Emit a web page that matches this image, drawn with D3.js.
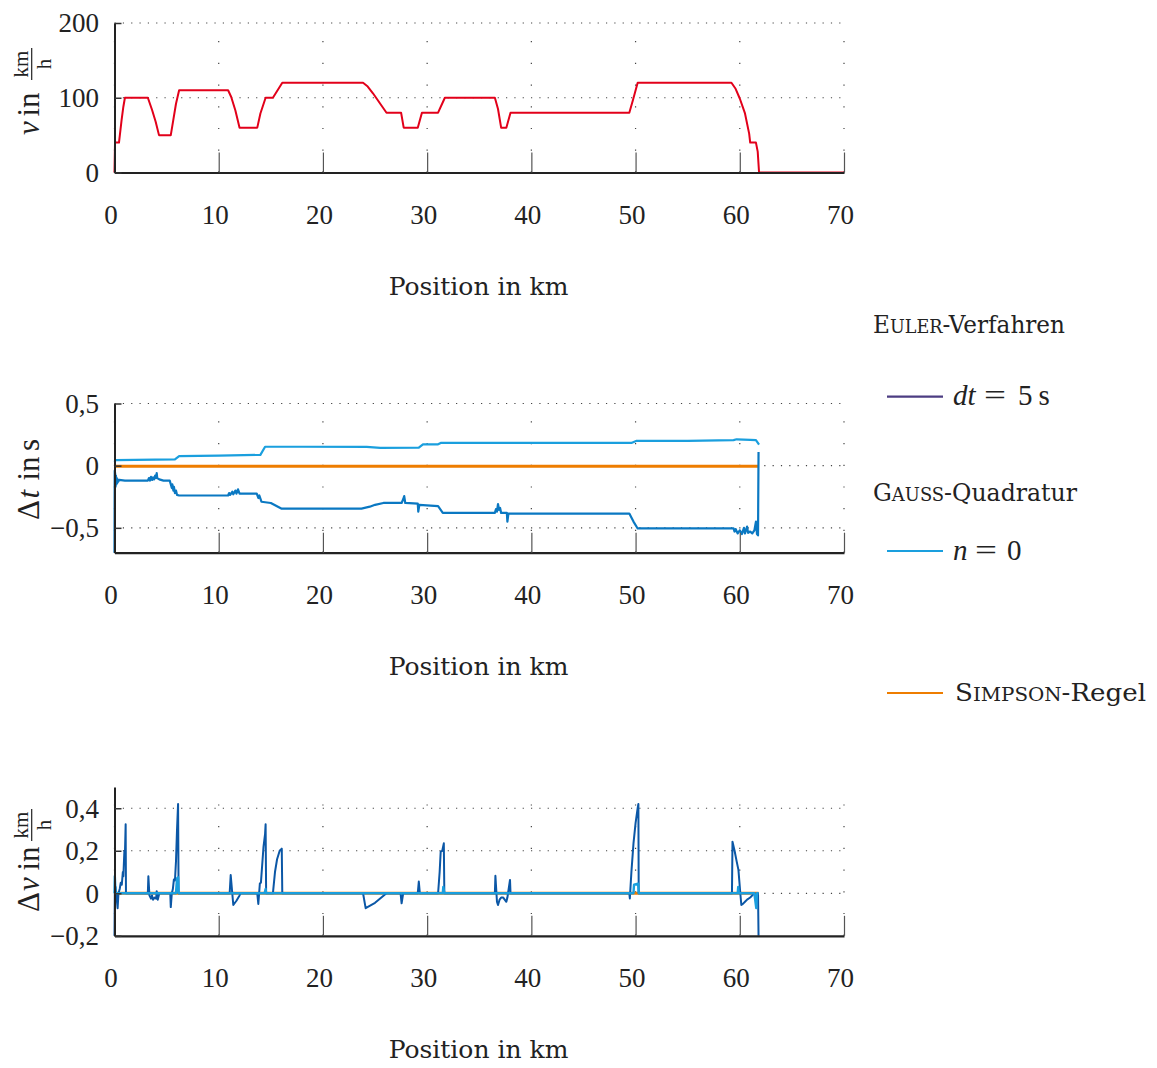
<!DOCTYPE html>
<html>
<head>
<meta charset="utf-8">
<script src="https://cdn.jsdelivr.net/npm/d3@7"></script>
<style>
  body { margin: 0; background: #fff; }
  .tick text { font-family: "Liberation Serif", serif; font-size: 27px; fill: #222; }
  .xtitle { font-family: "DejaVu Serif", serif; font-size: 25px; fill: #222; }
  .legend { font-family: "DejaVu Serif", serif; fill: #222; }
  .math { font-family: "Liberation Serif", serif; fill: #222; }
</style>
</head>
<body>
<svg id="chart" width="1157" height="1068"></svg>
<script>
// ---- data ----
var xTicks = [0, 10, 20, 30, 40, 50, 60, 70];

// speed profile (km, km/h)
var speedKm  = [0, 0.05, 0.43, 0.68, 0.85, 1.0, 3.2, 3.6, 3.95, 4.27, 5.4, 5.64, 5.9, 6.2, 10.9, 11.2, 11.6, 12.0, 13.7, 14.0, 14.5, 15.2, 16.1, 23.85, 24.3, 24.8, 26.1, 27.5, 27.75, 29.1, 29.5, 31.05, 31.7, 36.5, 36.8, 37.1, 37.6, 38.0, 49.4, 49.75, 50.2, 59.2, 59.6, 60.0, 60.5, 60.9, 61.0, 61.55, 61.72, 61.85, 70];
var speedVal = [0, 40, 40, 70, 88, 100, 100, 84, 68, 50, 50, 70, 92, 110, 110, 101, 83, 60, 60, 79, 100, 100, 120, 120, 115, 106, 80, 80, 60, 60, 80, 80, 100, 100, 85, 60, 60, 80, 80, 97, 120, 120, 112, 99, 79, 52, 40, 40, 28, 0, 0];
var speedTicks = [0, 100, 200];

// time deviation (km, s)
var dtTicks = [-0.5, 0, 0.5];
var dtUpperKm  = [0, 0.1, 2, 5.8, 6.2, 10, 14.0, 14.45, 18, 24.2, 25.5, 29.2, 29.6, 31.05, 31.3, 40, 49.6, 50.1, 55, 59.4, 59.7, 61.0, 61.55, 61.85];
var dtUpperVal = [0.03, 0.044, 0.046, 0.05, 0.076, 0.08, 0.087, 0.152, 0.152, 0.151, 0.143, 0.145, 0.172, 0.172, 0.183, 0.183, 0.183, 0.2, 0.2, 0.205, 0.212, 0.208, 0.205, 0.17];
var dtLowerKm  = [0, 0.02, 0.06, 0.1, 0.14, 0.18, 0.22, 0.26, 0.3, 0.35, 0.45, 1.0, 3.2, 3.3, 3.4, 3.5, 3.6, 3.7, 3.8, 3.9, 4.0, 4.05, 4.1, 4.3, 4.7, 5.3, 5.4, 5.5, 5.55, 5.65, 5.7, 5.8, 5.9, 6.0, 6.2, 10.9, 11.0, 11.1, 11.3, 11.4, 11.6, 11.7, 11.85, 12.0, 13.65, 13.8, 13.9, 14.1, 15.0, 16.0, 23.7, 24.5, 25.0, 25.8, 27.55, 27.7, 27.8, 27.9, 29.1, 29.15, 29.25, 31.05, 31.5, 36.5, 36.6, 36.7, 36.8, 36.9, 37.0, 37.1, 37.65, 37.7, 37.8, 49.4, 49.8, 50.2, 59.4, 59.5, 59.6, 59.8, 60.0, 60.2, 60.4, 60.5, 60.7, 60.8, 61.0, 61.2, 61.4, 61.55, 61.65, 61.75, 61.8];
var dtLowerVal = [-0.7, -0.04, -0.06, -0.17, -0.08, -0.15, -0.1, -0.14, -0.11, -0.13, -0.115, -0.12, -0.12, -0.1, -0.12, -0.09, -0.115, -0.095, -0.11, -0.08, -0.1, -0.06, -0.1, -0.11, -0.12, -0.12, -0.15, -0.18, -0.15, -0.2, -0.17, -0.22, -0.2, -0.235, -0.24, -0.24, -0.22, -0.235, -0.21, -0.23, -0.2, -0.225, -0.19, -0.225, -0.225, -0.26, -0.24, -0.29, -0.3, -0.345, -0.345, -0.33, -0.315, -0.3, -0.3, -0.27, -0.245, -0.3, -0.305, -0.37, -0.315, -0.325, -0.38, -0.38, -0.35, -0.37, -0.31, -0.355, -0.34, -0.38, -0.38, -0.45, -0.385, -0.385, -0.45, -0.505, -0.505, -0.53, -0.51, -0.545, -0.52, -0.55, -0.5, -0.545, -0.49, -0.54, -0.53, -0.545, -0.52, -0.45, -0.55, -0.56, 0.11];
var dtSimpsonKm  = [0, 61.8];
var dtSimpsonVal = [-0.005, -0.005];

// speed deviation (km, km/h)
var dvTicks = [-0.2, 0, 0.2, 0.4];
var dvDarkKm  = [0, 0.03, 0.1, 0.2, 0.3, 0.38, 0.5, 0.6, 0.7, 0.8, 0.85, 0.95, 1.0, 1.07, 1.1, 3.2, 3.25, 3.35, 3.5, 3.6, 3.7, 3.85, 4.0, 4.05, 4.15, 4.3, 5.35, 5.4, 5.5, 5.6, 5.7, 5.8, 5.9, 6.0, 6.1, 6.15, 11.05, 11.15, 11.4, 11.7, 12.0, 12.1, 13.7, 13.8, 13.95, 14.05, 14.3, 14.45, 14.5, 14.55, 15.2, 15.4, 15.6, 15.85, 16.05, 16.1, 23.85, 24.1, 25.0, 26.1, 27.45, 27.55, 27.7, 29.1, 29.2, 29.3, 31.05, 31.2, 31.3, 31.45, 31.6, 31.65, 36.5, 36.55, 36.7, 36.8, 36.95, 37.1, 37.3, 37.6, 37.7, 37.95, 38.0, 49.4, 49.45, 49.6, 49.8, 50.0, 50.2, 50.27, 50.3, 59.25, 59.3, 59.5, 59.7, 59.87, 60.05, 60.15, 60.3, 60.5, 60.7, 61.0, 61.2, 61.4, 61.6, 61.75, 61.8];
var dvDarkVal = [-0.2, 0.0, 0.03, -0.02, -0.07, 0.0, 0.02, 0.05, 0.04, 0.1, 0.08, 0.2, 0.18, 0.325, 0.0, 0.0, 0.08, -0.01, -0.025, -0.01, -0.03, -0.02, -0.025, 0.01, -0.03, 0.0, 0.0, -0.065, 0.0, 0.02, 0.065, 0.06, 0.15, 0.3, 0.42, 0.0, 0.0, 0.086, -0.055, -0.035, -0.01, 0.0, 0.0, -0.05, 0.047, 0.05, 0.22, 0.28, 0.325, 0.0, 0.0, 0.1, 0.16, 0.2, 0.21, 0.0, 0.0, -0.07, -0.045, 0.0, 0.0, -0.047, 0.0, 0.0, 0.055, 0.0, 0.0, 0.1, 0.196, 0.2, 0.235, 0.0, 0.0, 0.082, -0.04, -0.055, -0.03, -0.02, -0.02, -0.04, -0.02, 0.063, 0.0, 0.0, -0.024, 0.1, 0.235, 0.33, 0.4, 0.42, 0.0, 0.0, 0.243, 0.2, 0.15, 0.11, 0.0, -0.055, -0.05, -0.04, -0.03, -0.02, -0.01, 0.0, -0.01, 0.0, -0.2];
var dvLightKm  = [0, 0.03, 0.1, 5.9, 6.0, 6.1, 6.15, 14.4, 14.5, 14.55, 31.5, 31.55, 31.65, 49.8, 49.85, 50.25, 50.3, 59.8, 59.85, 59.9, 61.4, 61.58, 61.65, 61.8];
var dvLightVal = [0, 0.08, 0, 0, 0.07, 0.075, 0, 0, 0.02, 0, 0, 0.03, 0, 0, 0.04, 0.045, 0, 0, 0.03, 0, 0, -0.07, 0, 0];
var dvSimpsonKm  = [0, 61.8];
var dvSimpsonVal = [0, 0];

var red = "#e2001a", lightBlue = "#1a9fde", midBlue = "#0a78c2", darkBlue = "#0b57a6",
    orange = "#ee7d00", purple = "#4c3d82";

// ---- drawing ----
var svg = d3.select("#chart");
var x = d3.scaleLinear().domain([0, 70]).range([114.5, 844]);

var fmt = function (d) { return String(d).replace(".", ",").replace("-", "\u2212"); };

function drawPanel(p) {
    var y = d3.scaleLinear().domain(p.domain).range([p.bottom, p.top]);
    var g = svg.append("g");

    // grid
    g.selectAll(".vgrid").data(xTicks).enter().append("line")
        .attr("x1", d => x(d)).attr("x2", d => x(d))
        .attr("y1", p.bottom).attr("y2", p.top)
        .attr("stroke", "#444").attr("stroke-width", 1.2)
        .attr("stroke-dasharray", "1.2,20.5");
    g.selectAll(".hgrid").data(p.ticks.filter(t => t !== p.domain[0])).enter().append("line")
        .attr("x1", x.range()[0]).attr("x2", x.range()[1])
        .attr("y1", d => y(d)).attr("y2", d => y(d))
        .attr("stroke", "#444").attr("stroke-width", 1.2)
        .attr("stroke-dasharray", "1.2,7.13");

    // series
    var line = d3.line().x(d => x(d[0])).y(d => y(d[1]));
    p.series.forEach(function (s) {
        g.append("path")
            .datum(d3.zip(s.km, s.val))
            .attr("d", line)
            .attr("fill", "none")
            .attr("stroke", s.color)
            .attr("stroke-width", s.width)
            .attr("stroke-linejoin", "round");
    });

    // axes
    var xAxis = g.append("g")
        .attr("transform", `translate(0,${p.bottom})`)
        .call(d3.axisBottom(x).tickValues(xTicks).tickFormat(fmt)
            .tickSizeInner(-20).tickSizeOuter(0).tickPadding(32));
    xAxis.select(".domain").attr("stroke", "#222").attr("stroke-width", 2.2);
    xAxis.selectAll(".tick line").attr("stroke", "#555").attr("stroke-width", 1.2);
    xAxis.selectAll(".tick text").attr("x", -4);

    var yAxis = g.append("g")
        .attr("transform", `translate(${x.range()[0]},0)`)
        .call(d3.axisLeft(y).tickValues(p.ticks).tickFormat(fmt)
            .tickSizeInner(-7).tickSizeOuter(0).tickPadding(15.5));
    yAxis.select(".domain").attr("stroke", "#222").attr("stroke-width", 2);
    yAxis.selectAll(".tick line").attr("stroke", "#333").attr("stroke-width", 1.5);
    yAxis.selectAll(".tick text").attr("dy", "0.33em");

    // x title
    g.append("text").attr("class", "xtitle")
        .attr("x", 478.5).attr("y", p.bottom + 122.5)
        .attr("text-anchor", "middle")
        .text("Position in km");

    // y title, built from pieces in rotated frame
    var yt = g.append("g").attr("transform", `translate(38.5,${p.labelBase}) rotate(-90)`);
    p.label.forEach(function (piece) {
        if (piece.bar) {
            yt.append("line").attr("x1", piece.x0).attr("x2", piece.x1)
                .attr("y1", -6.8).attr("y2", -6.8)
                .attr("stroke", "#222").attr("stroke-width", 1.2);
            return;
        }
        yt.append("text").attr("class", "math")
            .attr("x", piece.x).attr("y", piece.y || 0)
            .attr("font-size", piece.size || 31)
            .attr("font-style", piece.italic ? "italic" : "normal")
            .attr("text-anchor", piece.anchor || "start")
            .text(piece.t);
    });
    return y;
}

drawPanel({
    domain: [0, 200], ticks: speedTicks, top: 23, bottom: 172.5, labelBase: 135,
    series: [{ km: speedKm, val: speedVal, color: red, width: 2 }],
    label: [
        { t: "v", x: 0, italic: true },
        { t: "in", x: 18.5 },
        { t: "km", x: 71, y: -11, size: 21, anchor: "middle" },
        { bar: true, x0: 55, x1: 87 },
        { t: "h", x: 71, y: 12.5, size: 21, anchor: "middle" }
    ]
});

drawPanel({
    domain: [-0.7, 0.5], ticks: dtTicks, top: 403.5, bottom: 552.7, labelBase: 520,
    series: [
        { km: dtSimpsonKm, val: dtSimpsonVal, color: orange, width: 3 },
        { km: dtUpperKm, val: dtUpperVal, color: lightBlue, width: 2.2 },
        { km: dtLowerKm, val: dtLowerVal, color: midBlue, width: 2.2 }
    ],
    label: [
        { t: "\u0394", x: 0 },
        { t: "t", x: 21.5, italic: true },
        { t: "in", x: 39.5 },
        { t: "s", x: 69 }
    ]
});

drawPanel({
    domain: [-0.2, 0.5], ticks: dvTicks, top: 787, bottom: 935.8, labelBase: 912,
    series: [
        { km: dvSimpsonKm, val: dvSimpsonVal, color: orange, width: 3 },
        { km: dvDarkKm, val: dvDarkVal, color: darkBlue, width: 2 },
        { km: dvLightKm, val: dvLightVal, color: lightBlue, width: 2.4 }
    ],
    label: [
        { t: "\u0394", x: 0 },
        { t: "v", x: 21, italic: true },
        { t: "in", x: 41.5 },
        { t: "km", x: 87, y: -11, size: 21, anchor: "middle" },
        { bar: true, x0: 71, x1: 103 },
        { t: "h", x: 87, y: 12.5, size: 21, anchor: "middle" }
    ]
});

// ---- legend ----
var leg = svg.append("g");
function smallCaps(xPos, yBase, first, rest, tail, width) {
    var t = leg.append("text").attr("class", "legend")
        .attr("x", xPos).attr("y", yBase).attr("font-size", 25)
        .attr("textLength", width).attr("lengthAdjust", "spacingAndGlyphs");
    t.append("tspan").text(first);
    t.append("tspan").attr("font-size", 19).text(rest);
    t.append("tspan").text(tail);
    return t;
}
function legendLine(yPos, color) {
    leg.append("line").attr("x1", 887).attr("x2", 943)
        .attr("y1", yPos).attr("y2", yPos)
        .attr("stroke", color).attr("stroke-width", 2.2);
}
function mathPiece(xPos, yBase, t, italic, len) {
    var el = leg.append("text").attr("class", "math")
        .attr("x", xPos).attr("y", yBase).attr("font-size", 29)
        .attr("font-style", italic ? "italic" : "normal").text(t);
    if (len) el.attr("textLength", len).attr("lengthAdjust", "spacingAndGlyphs");
}

smallCaps(873, 333, "E", "ULER", "-Verfahren", 192);
legendLine(396.7, purple);
mathPiece(953, 405, "dt", true);
mathPiece(984, 405, "=", false, 22);
mathPiece(1018, 405, "5", false);
mathPiece(1038.5, 405, "s", false);

smallCaps(873, 501, "G", "AUSS", "-Quadratur", 204);
legendLine(551, lightBlue);
mathPiece(953, 560, "n", true);
mathPiece(975, 560, "=", false, 22);
mathPiece(1007, 560, "0", false);

legendLine(693, orange);
smallCaps(955, 701, "S", "IMPSON", "-Regel", 191);
</script>
</body>
</html>
